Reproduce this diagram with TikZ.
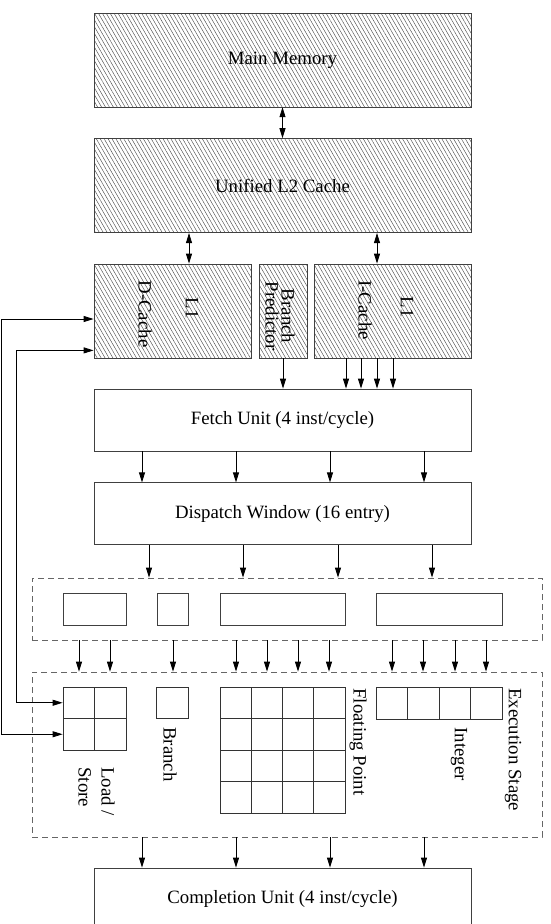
\documentclass[tikz,border=0pt]{standalone}
\usepackage{fontspec}
\setmainfont{Liberation Serif}
\usetikzlibrary{arrows.meta,positioning,patterns.meta}

\begin{document}
\begin{tikzpicture}[x=1pt,y=-1pt,node distance=31pt,
  unit/.style={draw=black!75,line width=0.8pt,minimum width=377pt,minimum height=62pt,inner sep=0pt,font=\fontsize{18.8}{16}\selectfont},
  mem/.style={unit,minimum height=94pt,pattern={Lines[angle=-60,distance=3.4pt,line width=0.45pt]},pattern color=black!70},
  cell/.style={draw=black!80,line width=0.8pt,inner sep=0pt,minimum width=31.5pt,minimum height=31.5pt},
  slot/.style={draw=black!75,line width=0.8pt,inner sep=0pt,minimum height=32pt},
  group/.style={draw=black!60,line width=0.8pt,dash pattern=on 6pt off 4pt,inner sep=0pt},
  vlabel/.style={rotate=-90,inner sep=0pt,font=\fontsize{18.8}{23}\selectfont},
  >={Triangle[length=10pt,width=6pt]}, line width=0.8pt]
\useasboundingbox (0,0) rectangle (550,924);

% memory hierarchy
\node[mem] (mm) at (282.5,60) {Main Memory};
\node[mem,below=of mm] (l2) {Unified L2 Cache};
\node[mem,minimum width=157pt] (dc) at (172.5,311) {};
\node[mem,minimum width=48pt] (bp) at (283,311) {};
\node[mem,minimum width=157pt] (ic) at (392.5,311) {};
\node[vlabel] (dcl1) at (192,308) {L1};
\node[vlabel] (dcname) at (145,314) {D-Cache};
\node[vlabel,align=center,font=\fontsize{18.8}{16}\selectfont] (bpname) at (280,316) {Branch\\Predictor};
\node[vlabel] (icl1) at (407,307) {L1};
\node[vlabel] (icname) at (365,310) {I-Cache};

% front end
\node[unit] (fetch) at (282.5,420) {Fetch Unit (4 inst/cycle)};
\node[unit,below=of fetch] (disp) {Dispatch Window (16 entry)};

% reservation stations
\node[group,minimum width=510pt,minimum height=62pt] (rs) at (287,609) {};
\node[slot,minimum width=63pt] (r1) at (94.5,609) {};
\node[slot,minimum width=31pt] (r2) at (172.5,609) {};
\node[slot,minimum width=125pt] (r3) at (282.5,609) {};
\node[slot,minimum width=126pt] (r4) at (439,609) {};

% execution stage
\node[group,minimum width=510pt,minimum height=165pt] (ex) at (287,754.5) {};
\foreach \r in {1,2}
  \foreach \c in {1,2}
    \node[cell] (ls\r\c) at ({63+31.5*(\c-0.5)},{687+31.5*(\r-0.5)}) {};
\node[cell] (br) at (172.5,703) {};
\foreach \r in {1,...,4}
  \foreach \c in {1,...,4}
    \node[cell,minimum width=31.25pt] (fp\r\c) at ({220+31.25*(\c-0.5)},{687+31.5*(\r-0.5)}) {};
\foreach \c in {1,...,4}
  \node[cell,minimum height=32pt] (int\c) at ({376+31.5*(\c-0.5)},703) {};
\node[vlabel,align=left,anchor=west] (lsname) at (96.5,767) {Load /\\Store};
\node[vlabel,anchor=west] (brname) at (170,727) {Branch};
\node[vlabel,anchor=west] (fpname) at (358,688) {Floating Point};
\node[vlabel,anchor=west] (intname) at (459,727) {Integer};
\node[vlabel,anchor=west] (exname) at (513,688) {Execution Stage};

\node[unit] (comp) at (282.5,899) {Completion Unit (4 inst/cycle)};

% connectors
\draw[<->] (mm) -- (l2);
\draw[<->] (l2.south -| 189,0) -- (dc.north -| 189,0);
\draw[<->] (l2.south -| 377,0) -- (ic.north -| 377,0);
\draw[->] (bp.south) -- (bp.south |- fetch.north);
\foreach \x in {346,361,377,393}
  \draw[->] (ic.south -| \x,0) -- (fetch.north -| \x,0);
\foreach \x in {142,236,330,424}
  \draw[->] (fetch.south -| \x,0) -- (disp.north -| \x,0);
\foreach \x in {149,243,338,432}
  \draw[->] (disp.south -| \x,0) -- (rs.north -| \x,0);
\foreach \x in {79,110,173,236,267,298,329,392,423,455,486}
  \draw[->] (rs.south -| \x,0) -- (ex.north -| \x,0);
\foreach \x in {142,236,330,424}
  \draw[->] (ex.south -| \x,0) -- (comp.north -| \x,0);
\draw[<->] (ls11.west) -- (16,0 |- ls11.west) |- ([yshift=8pt]dc.south west);
\draw[<->] (ls21.west) -- (1.5,0 |- ls21.west) |- ([yshift=-8pt]dc.west);
\end{tikzpicture}
\end{document}
